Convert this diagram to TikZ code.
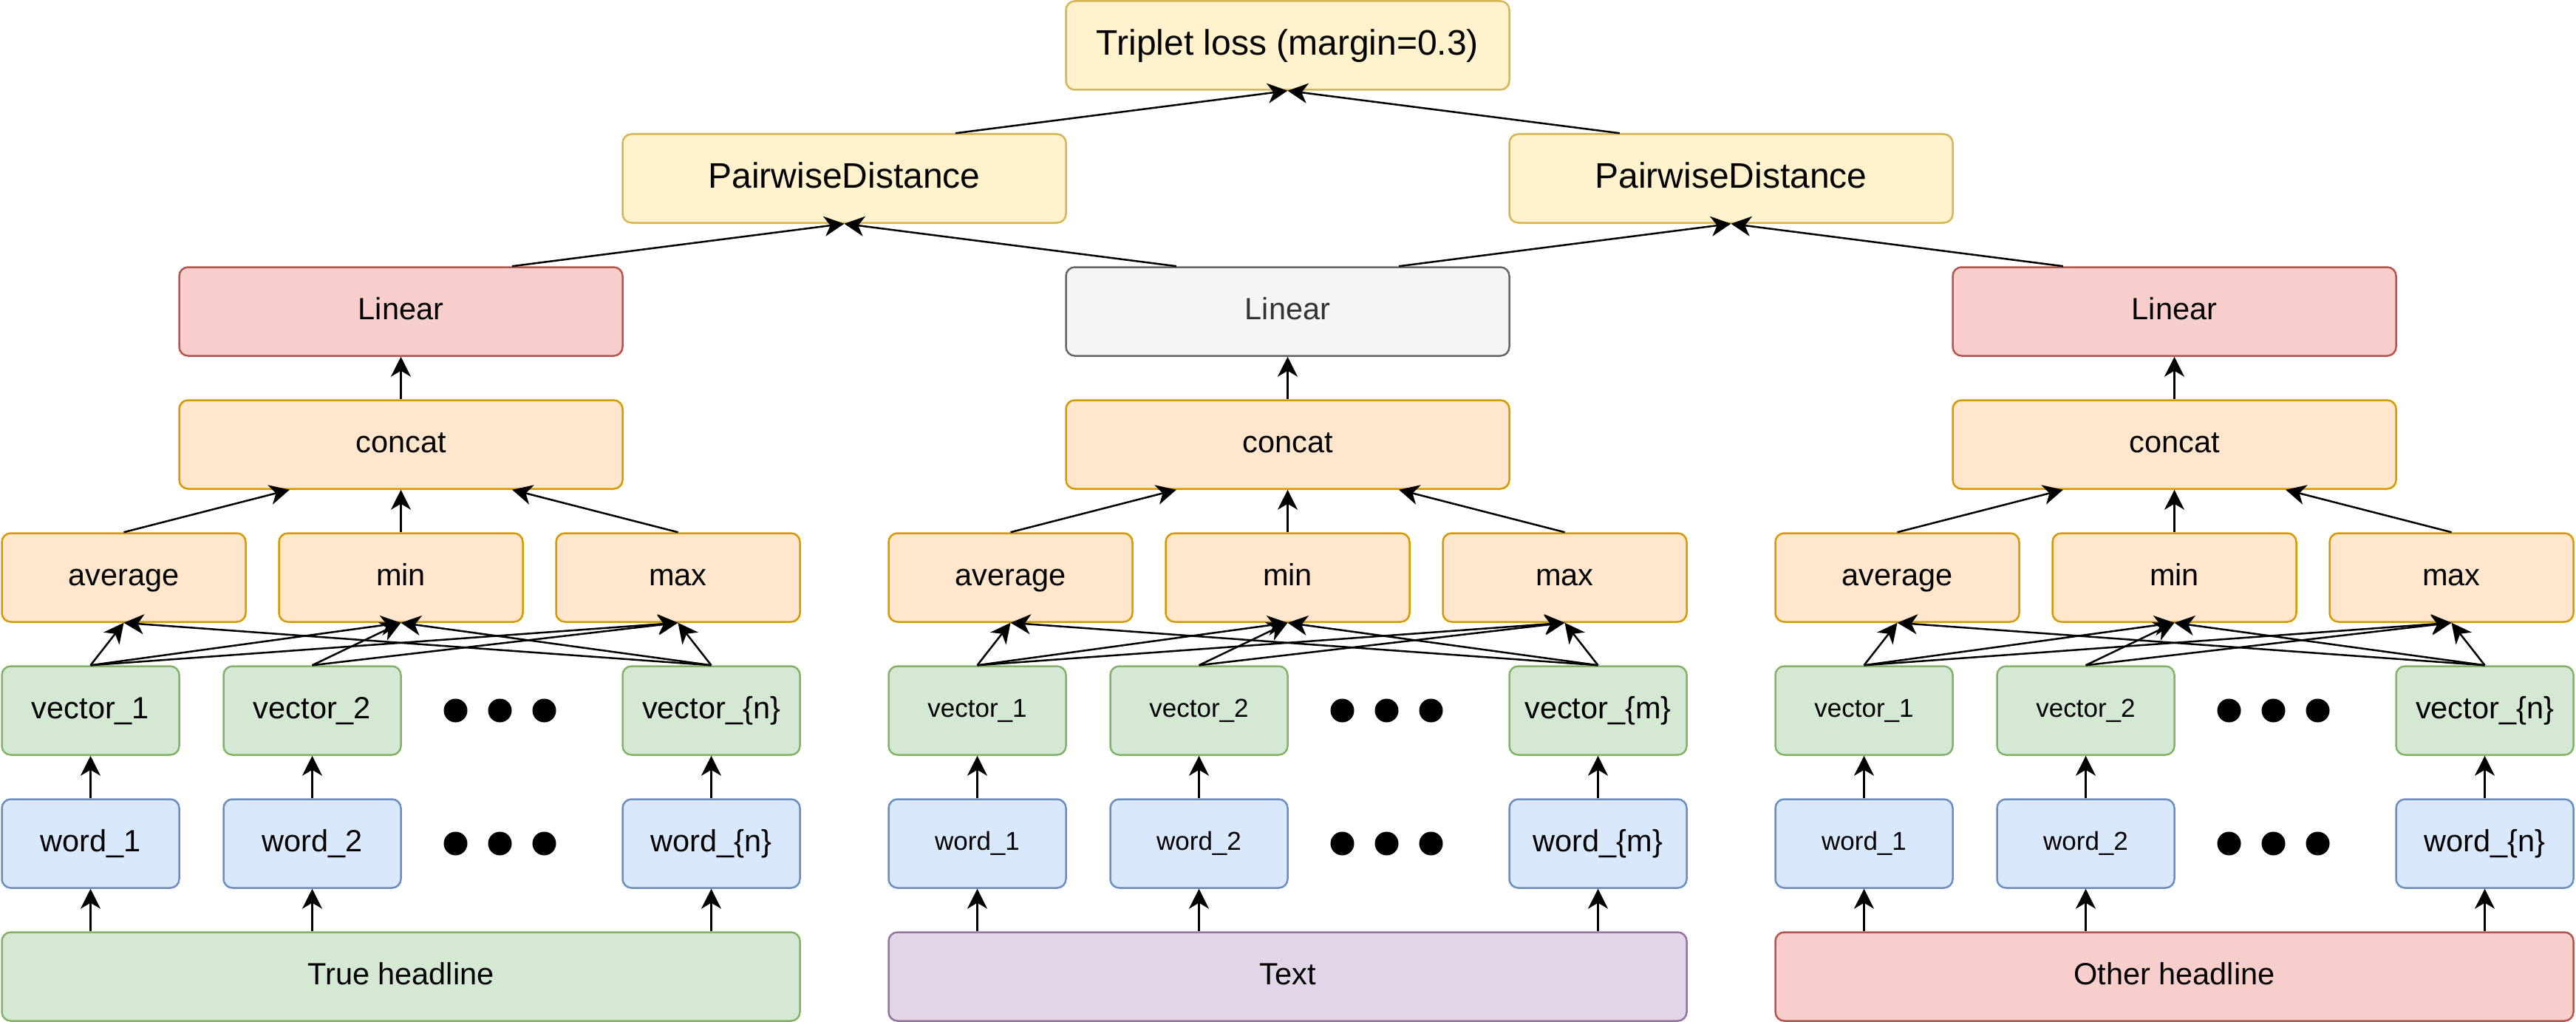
\documentclass[tikz,border=0pt]{standalone}
\usepackage{fontspec}
\setmainfont{Liberation Sans}
\usetikzlibrary{arrows.meta,calc}
\definecolor{yelF}{HTML}{FFF2CC}\definecolor{yelD}{HTML}{D6B656}
\definecolor{redF}{HTML}{F8CECC}\definecolor{redD}{HTML}{B85450}
\definecolor{gryF}{HTML}{F5F5F5}\definecolor{gryD}{HTML}{666666}\definecolor{gryT}{HTML}{333333}
\definecolor{orgF}{HTML}{FFE6CC}\definecolor{orgD}{HTML}{D79B00}
\definecolor{grnF}{HTML}{D5E8D4}\definecolor{grnD}{HTML}{82B366}
\definecolor{bluF}{HTML}{DAE8FC}\definecolor{bluD}{HTML}{6C8EBF}
\definecolor{purF}{HTML}{E1D5E7}\definecolor{purD}{HTML}{9673A6}
\newcommand\mkgroup[7]{%
\node[box,#3,minimum width=1080pt] (h#1) at ({#2+270},660) {#4};
\node[box,bxblu,minimum width=240pt,#7] (wa#1) at ({#2+60},570) {word\_1};
\node[box,bxblu,minimum width=240pt,#7] (wb#1) at ({#2+210},570) {word\_2};
\node[box,bxblu,minimum width=240pt] (wn#1) at ({#2+480},570) {word\_\{#6\}};
\node[box,bxgrn,minimum width=240pt,#7] (va#1) at ({#2+60},480) {vector\_1};
\node[box,bxgrn,minimum width=240pt,#7] (vb#1) at ({#2+210},480) {vector\_2};
\node[box,bxgrn,minimum width=240pt] (vn#1) at ({#2+480},480) {vector\_\{#6\}};
\node[blackdot] (da#1) at ({#2+307},480) {};
\node[blackdot] (db#1) at ({#2+337},480) {};
\node[blackdot] (dc#1) at ({#2+367},480) {};
\node[blackdot] (ea#1) at ({#2+307},570) {};
\node[blackdot] (eb#1) at ({#2+337},570) {};
\node[blackdot] (ec#1) at ({#2+367},570) {};
\node[box,bxorg,minimum width=330pt] (avg#1) at ({#2+82.5},390) {average};
\node[box,bxorg,minimum width=330pt] (min#1) at ({#2+270},390) {min};
\node[box,bxorg,minimum width=330pt] (max#1) at ({#2+457.5},390) {max};
\node[box,bxorg,minimum width=600pt] (cc#1) at ({#2+270},300) {concat};
\node[box,#5,minimum width=600pt] (lin#1) at ({#2+270},210) {Linear};
\draw[arr] (h#1.north -| wa#1) -- (wa#1.south);
\draw[arr] (h#1.north -| wb#1) -- (wb#1.south);
\draw[arr] (h#1.north -| wn#1) -- (wn#1.south);
\draw[arr] (wa#1.north) -- (va#1.south);
\draw[arr] (wb#1.north) -- (vb#1.south);
\draw[arr] (wn#1.north) -- (vn#1.south);
\draw[arr] (va#1.north) -- (avg#1.south);
\draw[arr] (va#1.north) -- (min#1.south);
\draw[arr] (va#1.north) -- (max#1.south);
\draw[arr] (vb#1.north) -- (min#1.south);
\draw[arr] (vb#1.north) -- (max#1.south);
\draw[arr] (vn#1.north) -- (avg#1.south);
\draw[arr] (vn#1.north) -- (min#1.south);
\draw[arr] (vn#1.north) -- (max#1.south);
\draw[arr] (avg#1.north) -- ($(cc#1.south west)!.25!(cc#1.south east)$);
\draw[arr] (min#1.north) -- (cc#1.south);
\draw[arr] (max#1.north) -- ($(cc#1.south west)!.75!(cc#1.south east)$);
\draw[arr] (cc#1.north) -- (lin#1.south);
}
\begin{document}
\begin{tikzpicture}[x=2pt,y=-2pt,
  box/.style={draw, rounded corners=12pt, line width=2.5pt, inner sep=0pt,
    minimum height=120pt, align=center, font=\fontsize{41.5}{50}\selectfont,
    text height=30pt, text depth=8pt},
  fbig/.style={font=\fontsize{48}{58}\selectfont, text height=34.5pt, text depth=9pt},
  fsmall/.style={font=\fontsize{35}{42}\selectfont, text height=25pt, text depth=7pt},
  bxyel/.style={fill=yelF, draw=yelD},
  bxred/.style={fill=redF, draw=redD},
  bxgry/.style={fill=gryF, draw=gryD, text=gryT},
  bxorg/.style={fill=orgF, draw=orgD},
  bxgrn/.style={fill=grnF, draw=grnD},
  bxblu/.style={fill=bluF, draw=bluD},
  bxpur/.style={fill=purF, draw=purD},
  blackdot/.style={circle, fill=black, inner sep=0pt, minimum size=32pt},
  arr/.style={-{Stealth[length=27pt,width=27pt,inset=8pt]}, line width=2.5pt}]
\useasboundingbox (-1.25,-0.75) rectangle (1741.75,690.75);
\mkgroup{0}{0}{bxgrn}{True headline}{bxred}{n}{}
\mkgroup{1}{600}{bxpur}{Text}{bxgry}{m}{fsmall}
\mkgroup{2}{1200}{bxred}{Other headline}{bxred}{n}{fsmall}
\node[box,bxyel,fbig,minimum width=600pt] (pwL) at (570,120) {PairwiseDistance};
\node[box,bxyel,fbig,minimum width=600pt] (pwR) at (1170,120) {PairwiseDistance};
\node[box,bxyel,fbig,minimum width=600pt] (tl) at (870,30) {Triplet loss (margin=0.3)};
\draw[arr] ($(lin0.north west)!.75!(lin0.north east)$) -- (pwL.south);
\draw[arr] ($(lin1.north west)!.25!(lin1.north east)$) -- (pwL.south);
\draw[arr] ($(lin1.north west)!.75!(lin1.north east)$) -- (pwR.south);
\draw[arr] ($(lin2.north west)!.25!(lin2.north east)$) -- (pwR.south);
\draw[arr] ($(pwL.north west)!.75!(pwL.north east)$) -- (tl.south);
\draw[arr] ($(pwR.north west)!.25!(pwR.north east)$) -- (tl.south);
\end{tikzpicture}
\end{document}
